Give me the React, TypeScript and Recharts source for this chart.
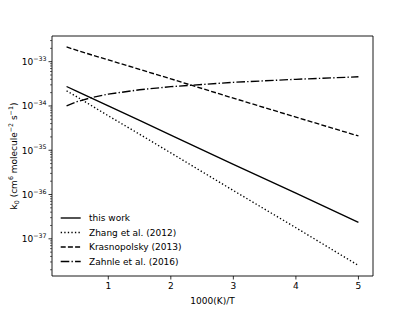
import { LineChart, Line, XAxis, YAxis, ReferenceArea, Legend, Label } from 'recharts';

const invT = [0.333, 0.5, 0.75, 1, 1.5, 2, 3, 4, 5];

const thisWork = [2.75e-34, 2.14e-34, 1.47e-34, 1.0e-34, 4.7e-35, 2.2e-35, 4.8e-36, 1.07e-36, 2.35e-37];
const zhang2012 = [2.2e-34, 1.6e-34, 9.8e-35, 6.0e-35, 2.3e-35, 8.7e-36, 1.23e-36, 1.78e-37, 2.5e-38];
const krasnopolsky2013 = [2.15e-33, 1.8e-33, 1.4e-33, 1.1e-33, 6.7e-34, 4.1e-34, 1.5e-34, 5.6e-35, 2.1e-35];
const zahnle2016 = [1.0e-34, 1.25e-34, 1.57e-34, 1.85e-34, 2.32e-34, 2.73e-34, 3.42e-34, 4.0e-34, 4.56e-34];

const xTicks = [1, 2, 3, 4, 5];
const decades = [-38, -37, -36, -35, -34, -33];

const X_DOMAIN: [number, number] = [0.1, 5.233];
const Y_DOMAIN: [number, number] = [Math.pow(10, -37.84), Math.pow(10, -32.42)];

const FONT = '"DejaVu Sans", sans-serif';
const LW = 1.35;

const series = [
  { key: 'thisWork', name: 'this work', dash: undefined as string | undefined },
  { key: 'zhang', name: 'Zhang et al. (2012)', dash: `${LW},${2.2}` },
  { key: 'krasnopolsky', name: 'Krasnopolsky (2013)', dash: '5,2.2' },
  { key: 'zahnle', name: 'Zahnle et al. (2016)', dash: '8.6,2.2,1.35,2.2' },
];

const data = invT.map((x, i) => ({
  x,
  thisWork: thisWork[i],
  zhang: zhang2012[i],
  krasnopolsky: krasnopolsky2013[i],
  zahnle: zahnle2016[i],
}));

// major + minor ticks of the log axis
const yTicks: number[] = [];
decades.forEach((e) => {
  for (let m = 1; m <= 9; m++) {
    const v = Number(`${m}e${e}`);
    if (v >= Y_DOMAIN[0] && v <= Y_DOMAIN[1]) yTicks.push(v);
  }
});

const YTick = (props: any) => {
  const { x, y, payload } = props;
  const lg = Math.log10(payload.value);
  const e = Math.round(lg);
  const major = Math.abs(lg - e) < 1e-6;
  return (
    <g>
      <line x1={x} x2={x - (major ? 3.5 : 2)} y1={y} y2={y} stroke="#000" strokeWidth={major ? 0.8 : 0.6} />
      {major && (
        <text x={x - 5.5} y={y + 3.3} textAnchor="end" fontFamily={FONT} fontSize={9} fill="#000">
          10
          <tspan dy={-4.3} fontSize={6.3}>{`−${-e}`}</tspan>
        </text>
      )}
    </g>
  );
};

const XTick = (props: any) => {
  const { x, y, payload } = props;
  return (
    <g>
      <line x1={x} x2={x} y1={y} y2={y + 3.5} stroke="#000" strokeWidth={0.8} />
      <text x={x} y={y + 12.5} textAnchor="middle" fontFamily={FONT} fontSize={9} fill="#000">
        {payload.value}
      </text>
    </g>
  );
};

const YLabel = (props: any) => {
  const { viewBox } = props;
  const cy = viewBox.y + viewBox.height / 2;
  const cx = 16.5;
  return (
    <text
      x={cx}
      y={cy}
      transform={`rotate(-90 ${cx} ${cy})`}
      textAnchor="middle"
      fontFamily={FONT}
      fontSize={9}
      fill="#000"
    >
      k<tspan dy={2} fontSize={6.3}>0</tspan>
      <tspan dy={-2}> (cm</tspan>
      <tspan dy={-3.5} fontSize={6.3}>6</tspan>
      <tspan dy={3.5}> molecule</tspan>
      <tspan dy={-3.5} fontSize={6.3}>−2</tspan>
      <tspan dy={3.5}> s</tspan>
      <tspan dy={-3.5} fontSize={6.3}>−1</tspan>
      <tspan dy={3.5}>)</tspan>
    </text>
  );
};

const LegendBox = () => (
  <svg width={140} height={62} style={{ display: 'block' }}>
    {series.map((s, i) => {
      const cy = 8 + i * 14.5;
      return (
        <g key={s.key}>
          <line x1={5.7} x2={25.7} y1={cy} y2={cy} stroke="#000" strokeWidth={LW} strokeDasharray={s.dash} />
          <text x={34} y={cy + 3.3} fontFamily={FONT} fontSize={9} fill="#000">
            {s.name}
          </text>
        </g>
      );
    })}
  </svg>
);

export default function App() {
  return (
    <div style={{ position: 'absolute', left: 0, top: 0, background: '#fff' }}>
      <LineChart width={415} height={311} data={data} margin={{ top: 36, right: 42, bottom: 0, left: 0 }}>
        <XAxis
          dataKey="x"
          type="number"
          domain={X_DOMAIN}
          allowDataOverflow
          ticks={xTicks}
          tick={<XTick />}
          tickLine={false}
          axisLine={false}
          tickSize={0}
          tickMargin={0}
          height={35}
        >
          <Label value="1000(K)/T" position="bottom" offset={0} dy={-13} fontFamily={FONT} fontSize={9} fill="#000" />
        </XAxis>
        <YAxis
          type="number"
          scale="log"
          domain={Y_DOMAIN}
          allowDataOverflow
          ticks={yTicks}
          interval={0}
          tick={<YTick />}
          tickLine={false}
          axisLine={false}
          tickSize={0}
          tickMargin={0}
          width={52}
        >
          <Label content={<YLabel />} />
        </YAxis>
        <ReferenceArea
          x1={X_DOMAIN[0]}
          x2={X_DOMAIN[1]}
          y1={Y_DOMAIN[0]}
          y2={Y_DOMAIN[1]}
          fill="none"
          stroke="#000"
          strokeWidth={0.9}
          ifOverflow="visible"
        />
        {series.map((s) => (
          <Line
            key={s.key}
            dataKey={s.key}
            name={s.name}
            type="linear"
            stroke="#000"
            strokeWidth={LW}
            strokeDasharray={s.dash}
            dot={false}
            activeDot={false}
            isAnimationActive={false}
          />
        ))}
        <Legend
          layout="vertical"
          align="center"
          verticalAlign="middle"
          content={<LegendBox />}
          wrapperStyle={{ left: 55, top: 210, width: 140, height: 62 }}
        />
      </LineChart>
    </div>
  );
}
